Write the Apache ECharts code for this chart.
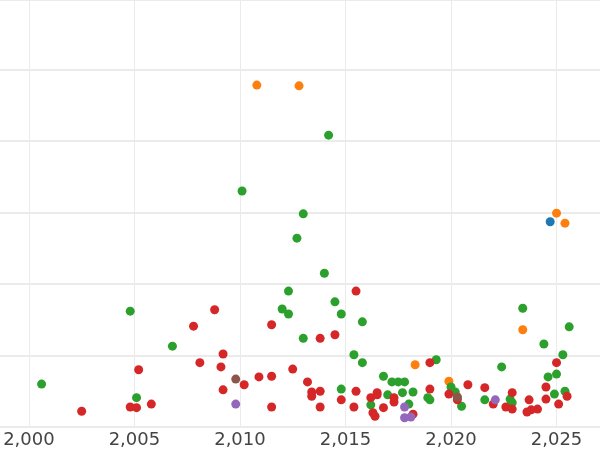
<!DOCTYPE html>
<html>
<head>
<meta charset="utf-8">
<script src="https://cdn.jsdelivr.net/npm/echarts@6/dist/echarts.min.js"></script>
<style>html,body{margin:0;padding:0;background:#fff}#chart{width:600px;height:450px}</style>
</head>
<body>
<div id="chart"></div>
<script>
// tick labels along the year axis
var yearTicks = [2000, 2005, 2010, 2015, 2020, 2025];

// [year, value] per colour group
var blueData = [[2024.7, 2.87]];
var orangeData = [[2010.8, 4.78], [2012.8, 4.77], [2025.0, 2.99], [2025.4, 2.85], [2023.4, 1.36], [2018.3, 0.87], [2019.9, 0.64]];
var greenData = [
	[2000.6, 0.60], [2004.8, 1.62], [2005.1, 0.41], [2006.8, 1.13], [2010.1, 3.30], [2014.2, 4.08],
	[2013.0, 2.98], [2012.7, 2.64], [2014.0, 2.15], [2012.3, 1.90], [2012.0, 1.65], [2012.3, 1.58],
	[2013.0, 1.24], [2014.5, 1.75], [2014.8, 1.58], [2015.8, 1.47], [2015.4, 1.01], [2015.8, 0.90],
	[2014.8, 0.53], [2016.8, 0.71], [2017.2, 0.63], [2017.5, 0.63], [2017.8, 0.63], [2017.7, 0.48],
	[2017.0, 0.45], [2016.2, 0.31], [2018.0, 0.32], [2018.2, 0.49], [2018.9, 0.41], [2019.0, 0.38],
	[2019.3, 0.94], [2020.0, 0.56], [2020.2, 0.49], [2020.3, 0.41], [2020.5, 0.29], [2021.6, 0.38],
	[2022.4, 0.84], [2022.9, 0.34], [2022.8, 0.39], [2023.4, 1.66], [2024.4, 1.16], [2024.6, 0.70],
	[2025.0, 0.74], [2025.3, 1.01], [2025.6, 1.40], [2024.9, 0.46], [2025.4, 0.50]
];
var redData = [
	[2002.5, 0.22], [2004.8, 0.28], [2005.1, 0.27], [2005.2, 0.80], [2005.8, 0.32], [2007.8, 1.41],
	[2008.1, 0.90], [2008.8, 1.64], [2009.2, 1.02], [2009.1, 0.84], [2009.2, 0.52], [2010.2, 0.59],
	[2010.9, 0.70], [2011.5, 0.71], [2011.5, 1.43], [2011.5, 0.28], [2012.5, 0.81], [2013.2, 0.63],
	[2013.4, 0.49], [2013.4, 0.43], [2013.8, 1.24], [2013.8, 0.50], [2013.8, 0.28], [2014.5, 1.29],
	[2014.8, 0.38], [2015.5, 1.90], [2015.5, 0.50], [2015.4, 0.28], [2016.2, 0.41], [2016.5, 0.48],
	[2016.3, 0.20], [2016.4, 0.15], [2016.5, 0.45], [2016.8, 0.27], [2017.3, 0.41], [2017.3, 0.35],
	[2018.2, 0.18], [2019.0, 0.90], [2019.0, 0.53], [2019.9, 0.46], [2020.3, 0.38], [2020.8, 0.59],
	[2021.6, 0.55], [2022.0, 0.32], [2022.6, 0.28], [2022.9, 0.48], [2022.9, 0.25], [2023.6, 0.21],
	[2023.8, 0.24], [2024.1, 0.25], [2023.7, 0.38], [2024.5, 0.56], [2024.5, 0.39], [2025.0, 0.90],
	[2025.1, 0.32], [2025.5, 0.43]
];
var purpleData = [[2009.8, 0.32], [2017.8, 0.28], [2017.8, 0.13], [2018.1, 0.14], [2022.1, 0.38]];
var brownData = [[2009.8, 0.67], [2020.3, 0.42]];

var groups = [
	{ data: blueData, color: '#1f77b4' },
	{ data: orangeData, color: '#ff7f0e' },
	{ data: greenData, color: '#2ca02c' },
	{ data: redData, color: '#d62728' },
	{ data: purpleData, color: '#9467bd' },
	{ data: brownData, color: '#8c564b' }
];

var myChart = echarts.init(document.getElementById('chart'));
myChart.setOption({
	animation: false,
	grid: { left: 0, right: 0, top: 0, bottom: 23 },
	xAxis: {
		type: 'value',
		min: 1998.63,
		max: 2027.06,
		axisLine: { show: false },
		axisTick: { show: false, customValues: yearTicks },
		axisLabel: {
			customValues: yearTicks,
			color: '#444', fontSize: 18, fontFamily: 'DejaVu Sans', margin: 4
		},
		splitLine: { show: true, lineStyle: { color: '#ebebeb', width: 1 } }
	},
	yAxis: {
		type: 'value',
		min: 0,
		max: 5.97,
		interval: 1,
		axisLine: { show: false },
		axisTick: { show: false },
		axisLabel: { show: false },
		splitLine: { show: true, lineStyle: { color: '#ebebeb', width: 2 } }
	},
	series: groups.map(function (g) {
		return {
			type: 'scatter',
			data: g.data,
			symbolSize: 9,
			clip: false,
			itemStyle: { color: g.color, opacity: 1 }
		};
	})
});
</script>
</body>
</html>
